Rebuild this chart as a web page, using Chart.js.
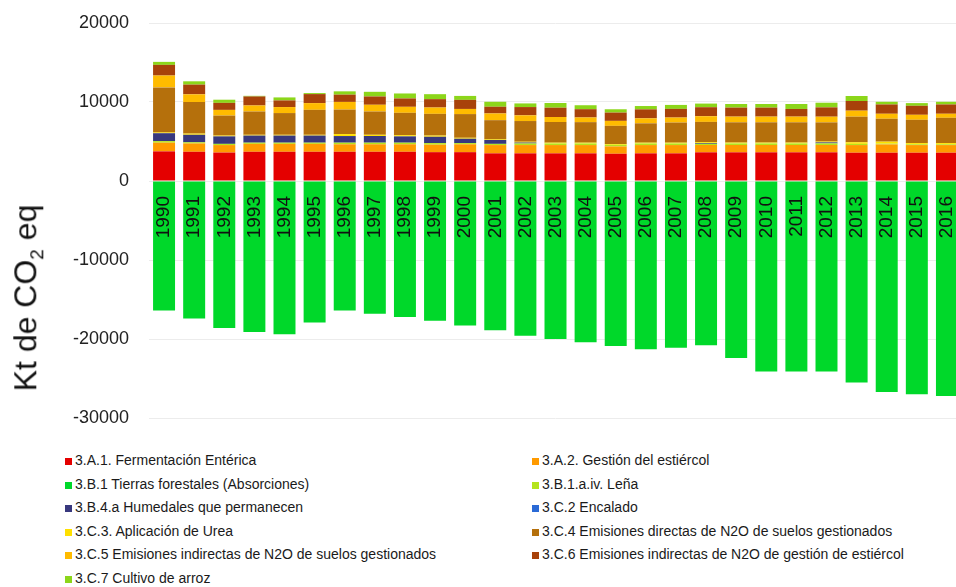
<!DOCTYPE html>
<html lang="es">
    <head>
        <meta charset="utf-8" />
        <title>Agricultura y tierras forestales</title>
        <script src="https://cdnjs.cloudflare.com/ajax/libs/Chart.js/4.4.0/chart.umd.js"></script>
        <style>
            body {
                margin: 0;
                background: #fff;
                overflow: hidden;
                font-family: "Liberation Sans", Arial, sans-serif;
                width: 956px;
                height: 587px;
                position: relative;
            }
            #canvas {
                position: absolute;
                left: 0;
                top: 0;
            }
            #ytitle {
                position: absolute;
                left: 28px;
                top: 298px;
                transform: translate(-50%, -50%) rotate(-90deg);
                white-space: nowrap;
                font-size: 32px;
                color: #111;
            }
            #ytitle sub {
                font-size: 19px;
            }
            .item {
                position: absolute;
                font-size: 14px;
                color: #1a1a1a;
                white-space: nowrap;
            }
            .item span {
                display: inline-block;
                width: 7px;
                height: 7px;
                margin-right: 3px;
            }
        </style>
    </head>
    <body>
        <canvas id="canvas" width="970" height="440"></canvas>
        <div id="ytitle">Kt de CO<sub>2</sub> eq</div>
        <div id="legend"></div>
        <script>
            const years = ['1990', '1991', '1992', '1993', '1994', '1995', '1996', '1997', '1998', '1999',
                '2000', '2001', '2002', '2003', '2004', '2005', '2006', '2007', '2008', '2009',
                '2010', '2011', '2012', '2013', '2014', '2015', '2016'];

            const fermentacion = [3750, 3700, 3600, 3700, 3700, 3700, 3700, 3700, 3700, 3650,
                3650, 3500, 3500, 3500, 3500, 3450, 3500, 3500, 3630, 3630,
                3630, 3630, 3630, 3580, 3580, 3580, 3580];
            const estiercol = [1100, 1050, 950, 1000, 1000, 1000, 950, 950, 950, 950,
                1000, 1050, 1050, 1050, 1050, 930, 1050, 1050, 930, 930,
                930, 930, 930, 970, 1050, 970, 970];
            const tierrasForestales = [-16400, -17400, -18600, -19100, -19400, -17900, -16400, -16800, -17200, -17700,
                -18300, -18900, -19600, -20000, -20400, -20900, -21300, -21100, -20800, -22400,
                -24100, -24100, -24100, -25500, -26700, -27000, -27200];
            const lena = [200, 150, 150, 150, 150, 150, 200, 200, 200, 200,
                150, 150, 200, 200, 200, 200, 200, 200, 150, 200,
                200, 200, 200, 150, 100, 100, 100];
            const humedales = [1000, 950, 950, 900, 900, 900, 840, 850, 800, 800,
                550, 500, 120, 0, 0, 0, 0, 0, 100, 0,
                0, 0, 130, 0, 0, 0, 0];
            const encalado = [0, 0, 0, 0, 0, 0, 0, 0, 0, 0,
                0, 0, 0, 0, 0, 0, 0, 0, 0, 0,
                0, 0, 0, 0, 0, 0, 0];
            const urea = [100, 150, 100, 100, 100, 100, 250, 150, 150, 150,
                120, 100, 100, 100, 100, 100, 100, 100, 100, 100,
                100, 100, 100, 200, 250, 150, 150];
            const directasN2O = [5700, 4000, 2530, 2950, 2750, 3160, 3100, 2950, 2830, 2750,
                3000, 2400, 2620, 2620, 2600, 2300, 2450, 2550, 2570, 2570,
                2570, 2570, 2430, 3240, 2900, 2950, 3200];
            const indirectasSuelos = [1500, 970, 720, 760, 760, 850, 970, 850, 760, 800,
                650, 850, 720, 630, 590, 630, 630, 630, 720, 720,
                720, 720, 720, 760, 630, 630, 510];
            const indirectasEstiercol = [1350, 1230, 890, 1140, 840, 1140, 920, 1050, 1060, 1060,
                1150, 850, 1050, 1180, 1050, 1050, 1140, 1100, 1140, 1140,
                1140, 970, 1180, 1230, 1180, 1140, 1180];
            const arroz = [380, 420, 400, 80, 380, 130, 420, 590, 630, 630,
                500, 630, 460, 590, 500, 420, 420, 500, 460, 460,
                460, 630, 590, 630, 340, 340, 340];

            const names = [
                '3.A.1. Fermentación Entérica',
                '3.A.2. Gestión del estiércol',
                '3.B.1 Tierras forestales (Absorciones)',
                '3.B.1.a.iv. Leña',
                '3.B.4.a Humedales que permanecen',
                '3.C.2 Encalado',
                '3.C.3. Aplicación de Urea',
                '3.C.4 Emisiones directas de N2O de suelos gestionados',
                '3.C.5 Emisiones indirectas de N2O de suelos gestionados',
                '3.C.6 Emisiones indirectas de N2O de gestión de estiércol',
                '3.C.7 Cultivo de arroz'
            ];
            const colors = ['#e40000', '#ff9a00', '#00d82a', '#b4e41e', '#38387e', '#2a6ad6',
                '#ffe000', '#b5700c', '#ffbb00', '#a8420a', '#8cd61a'];
            const series = [fermentacion, estiercol, tierrasForestales, lena, humedales, encalado,
                urea, directasN2O, indirectasSuelos, indirectasEstiercol, arroz];

            const datasets = series.map(function(values, i) {
                return {
                    label: names[i],
                    data: values,
                    backgroundColor: colors[i],
                    borderWidth: 0,
                    barPercentage: 0.73,
                    categoryPercentage: 1
                };
            });

            // legend in two columns, like the original
            const legend = document.getElementById('legend');
            for (let i = 0; i < names.length; i++) {
                const item = document.createElement('div');
                item.className = 'item';
                item.style.left = (i % 2 === 0 ? 65 : 532) + 'px';
                item.style.top = (452 + Math.floor(i / 2) * 23.5) + 'px';
                item.innerHTML = '<span style="background:' + colors[i] + '"></span>' + names[i];
                legend.appendChild(item);
            }

            // years are written on top of the negative bars, just under the zero line
            const yearLabels = {
                id: 'yearLabels',
                afterDatasetsDraw(chart) {
                    const ctx = chart.ctx;
                    const xs = chart.scales.x;
                    const y0 = chart.scales.y.getPixelForValue(0) + 15;
                    ctx.save();
                    ctx.font = '19px "Liberation Sans"';
                    ctx.fillStyle = '#111';
                    ctx.textAlign = 'right';
                    ctx.textBaseline = 'middle';
                    chart.data.labels.forEach(function(label, i) {
                        ctx.save();
                        ctx.translate(xs.getPixelForValue(i), y0);
                        ctx.rotate(-Math.PI / 2);
                        ctx.fillText(label, 0, 0);
                        ctx.restore();
                    });
                    ctx.restore();
                }
            };

            const chart = new Chart('canvas', {
                type: 'bar',
                data: {
                    labels: years,
                    datasets: datasets
                },
                plugins: [yearLabels],
                options: {
                    responsive: false,
                    animation: false,
                    layout: {
                        padding: { left: 0, top: 23, right: 8, bottom: 22 }
                    },
                    plugins: {
                        legend: { display: false },
                        tooltip: { enabled: false }
                    },
                    scales: {
                        x: {
                            stacked: true,
                            display: false
                        },
                        y: {
                            stacked: true,
                            min: -30000,
                            max: 20000,
                            afterFit: function(scale) {
                                scale.width = 149;
                                scale.paddingTop = 0;
                                scale.paddingBottom = 0;
                            },
                            grid: { color: '#ececec', drawTicks: false },
                            border: { display: false },
                            ticks: {
                                stepSize: 10000,
                                padding: 20,
                                color: '#222',
                                font: { family: 'Liberation Sans', size: 18 },
                                callback: function(value) {
                                    return String(value);
                                }
                            }
                        }
                    }
                }
            });
        </script>
    </body>
</html>
